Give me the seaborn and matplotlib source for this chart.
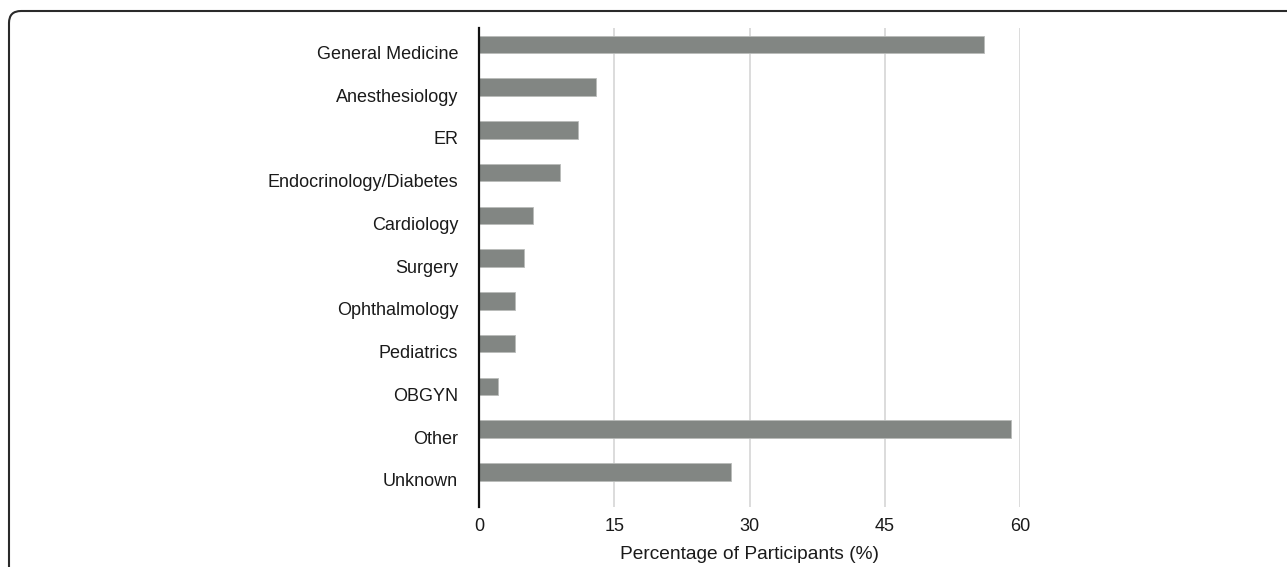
import matplotlib
matplotlib.use("Agg")
import matplotlib.pyplot as plt
import matplotlib.transforms as mtransforms
from matplotlib.patches import FancyBboxPatch
import pandas as pd
import seaborn as sns

# data
specialties = ["General Medicine", "Anesthesiology", "ER", "Endocrinology/Diabetes",
               "Cardiology", "Surgery", "Ophthalmology", "Pediatrics", "OBGYN",
               "Other", "Unknown"]
percentages = [56, 13, 11, 9, 6, 5, 4, 4, 2.1, 59, 28]
x_ticks = [0, 15, 30, 45, 60]

BAR_COLOR = "#828683"

sns.set_style("white")
plt.rcParams["font.family"] = ["Liberation Sans", "DejaVu Sans"]

df = pd.DataFrame({"specialty": specialties, "pct": percentages})

fig = plt.figure(figsize=(12.87, 5.67), dpi=100)
ax = fig.add_axes([479 / 1287, 60 / 567, 541 / 1287, 479 / 567])

sns.barplot(data=df, x="pct", y="specialty", orient="h", color=BAR_COLOR,
            saturation=1, width=0.41, edgecolor="#b9bcba", linewidth=0.6, ax=ax)

ax.set_xlim(0, 60)
ax.set_ylim(10.82, -0.385)
ax.set_xticks(x_ticks)
ax.set_xticklabels([str(t) for t in x_ticks])

# vertical grid lines only
ax.set_axisbelow(True)
ax.xaxis.grid(True, color="#dcdcdc", linewidth=1.4)
ax.yaxis.grid(False)

for side in ["top", "right", "bottom"]:
    ax.spines[side].set_visible(False)
ax.spines["left"].set_color("#111111")
ax.spines["left"].set_linewidth(1.6)
ax.spines["left"].set_zorder(5)

ax.tick_params(axis="both", length=0, labelsize=13, colors="#1a1a1a")
ax.tick_params(axis="y", pad=15)
ax.tick_params(axis="x", pad=8)

# the category labels sit a little below the bar centres in the original
offset = mtransforms.ScaledTranslation(0, -0.08, fig.dpi_scale_trans)
for lbl in ax.get_yticklabels():
    lbl.set_transform(lbl.get_transform() + offset)

ax.set_ylabel("")
ax.set_xlabel("Percentage of Participants (%)", fontsize=13.8, color="#1a1a1a", labelpad=8)

# rounded frame around the figure (cut by the right and bottom edges)
frame = FancyBboxPatch((9, -30), 1320, 567 - 11 + 30,
                       boxstyle="round,pad=0,rounding_size=12",
                       transform=None, fill=False, edgecolor="#2a2a2a", linewidth=1.5)
fig.patches.append(frame)

fig.savefig("out.png", dpi=100)
